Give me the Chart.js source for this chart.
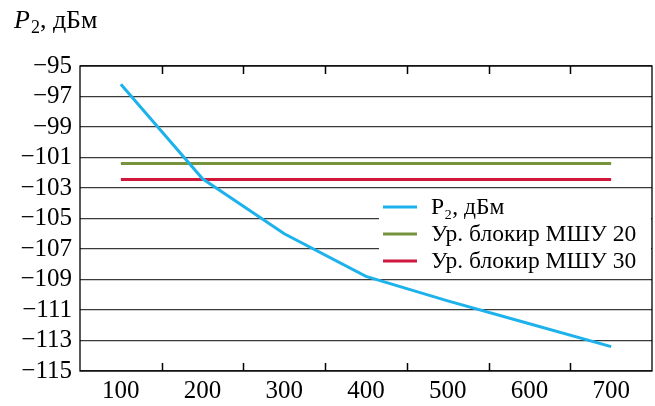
<!DOCTYPE html>
<html>
<head>
<meta charset="utf-8">
<script src="https://cdn.jsdelivr.net/npm/chart.js@4.4.1/dist/chart.umd.min.js"></script>
<style>
  html, body { margin: 0; padding: 0; background: #fff; }
  #wrap { width: 655px; height: 406px; }
</style>
</head>
<body>
<div id="wrap"><canvas id="chart"></canvas></div>
<script>
const categories = ['100', '200', '300', '400', '500', '600', '700'];
const p2Values = [-96.2, -102.4, -106.0, -108.8, -110.4, -111.9, -113.4];
const lna20Values = [-101.4, -101.4, -101.4, -101.4, -101.4, -101.4, -101.4];
const lna30Values = [-102.45, -102.45, -102.45, -102.45, -102.45, -102.45, -102.45];
const seriesLabels = ['P₂, дБм', 'Ур. блокир МШУ 20', 'Ур. блокир МШУ 30'];
const yMin = -115, yMax = -95, yStep = 2;

const FONT = "'Liberation Serif', 'DejaVu Serif', serif";
const colors = ['#1DB2EC', '#77933C', '#D2173D'];

// рамка, внутренние засечки, легенда внутри области и подпись оси Y
const decorPlugin = {
    id: 'decor',
    beforeDatasetsDraw(chart) {
        const { ctx, chartArea: a } = chart;
        // белый фон под легендой
        ctx.save();
        ctx.fillStyle = '#fff';
        ctx.fillRect(a.left + 299, a.top + 129, a.right - a.left - 300, 78);
        ctx.restore();
    },
    afterDraw(chart) {
        const { ctx, chartArea: a, scales } = chart;
        const x = scales.x;
        ctx.save();
        ctx.strokeStyle = '#000';
        ctx.lineWidth = 1.3;
        ctx.strokeRect(a.left, a.top, a.right - a.left, a.bottom - a.top);
        // засечки между категориями
        ctx.lineWidth = 1.5;
        for (let i = 1; i < categories.length; i++) {
            const px = Math.round((x.getPixelForValue(i - 1) + x.getPixelForValue(i)) / 2) + 0.5;
            ctx.beginPath();
            ctx.moveTo(px, a.bottom); ctx.lineTo(px, a.bottom - 8);
            ctx.moveTo(px, a.top); ctx.lineTo(px, a.top + 8);
            ctx.stroke();
        }
        // легенда
        const lx = a.left + 303, ly = a.top + 141, row = 27;
        chart.data.datasets.forEach((ds, i) => {
            const y = ly + i * row;
            ctx.strokeStyle = ds.borderColor;
            ctx.lineWidth = 3;
            ctx.beginPath();
            ctx.moveTo(lx, y); ctx.lineTo(lx + 34, y);
            ctx.stroke();
            ctx.fillStyle = '#000';
            ctx.font = '23.5px ' + FONT;
            ctx.textBaseline = 'middle';
            ctx.textAlign = 'left';
            ctx.fillText(ds.label, lx + 48, y + 1);
        });
        // подпись оси Y
        ctx.fillStyle = '#000';
        ctx.textBaseline = 'alphabetic';
        ctx.font = 'italic 26px ' + FONT;
        ctx.fillText('P', 14, 28);
        let w = ctx.measureText('P').width;
        ctx.font = '18px ' + FONT;
        ctx.fillText('2', 14 + w + 1, 33);
        w += ctx.measureText('2').width + 1;
        ctx.font = '26px ' + FONT;
        ctx.fillText(', дБм', 14 + w, 28);
        ctx.restore();
    }
};

const datasets = [p2Values, lna20Values, lna30Values].map((vals, i) => ({
    label: seriesLabels[i],
    data: vals,
    borderColor: colors[i],
    backgroundColor: colors[i],
    borderWidth: 3,
    pointRadius: 0,
    tension: 0,
    fill: false
}));

new Chart(document.getElementById('chart'), {
    type: 'line',
    data: { labels: categories, datasets: datasets },
    options: {
        responsive: true,
        maintainAspectRatio: false,
        animation: false,
        layout: { padding: { top: 66, right: 3, left: 0, bottom: 0 } },
        plugins: {
            legend: { display: false },
            title: { display: false },
            tooltip: { enabled: false }
        },
        scales: {
            x: {
                type: 'category',
                offset: true,
                grid: { display: false, drawTicks: false },
                border: { display: false },
                ticks: {
                    color: '#000',
                    font: { family: FONT, size: 25 },
                    padding: 5,
                    maxRotation: 0,
                    autoSkip: false
                },
                afterFit(scale) { scale.height = 35; }
            },
            y: {
                min: yMin,
                max: yMax,
                grid: {
                    color: '#3a3a3a',
                    lineWidth: 1.2,
                    drawTicks: false
                },
                border: { display: false },
                ticks: {
                    stepSize: yStep,
                    autoSkip: false,
                    color: '#000',
                    font: { family: FONT, size: 25 },
                    padding: 8,
                    callback: v => String(v).replace('-', '−')
                },
                afterFit(scale) { scale.width = 80; }
            }
        }
    },
    plugins: [decorPlugin]
});
</script>
</body>
</html>
